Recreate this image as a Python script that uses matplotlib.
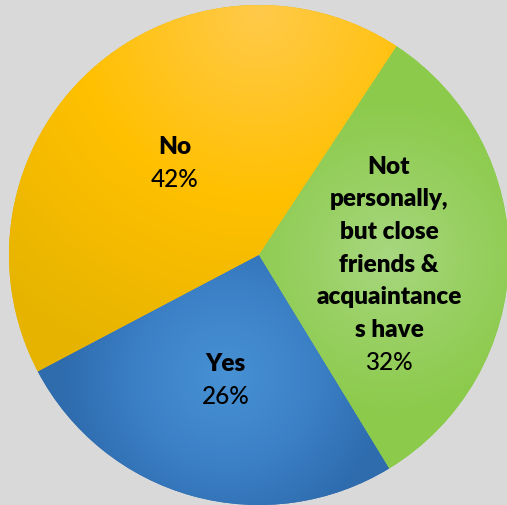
import numpy as np
import matplotlib.pyplot as plt
from matplotlib.colors import to_rgb

# survey answers
labels = ['No', 'Yes', 'Not\npersonally,\nbut close\nfriends &\nacquaintance\ns have']
values = [42, 26, 32]

# gradient stops per slice: (light, mid, dark)
stops = [('#FFCA4A', '#FFC000', '#E6B400'),
         ('#4791D4', '#3D82C8', '#2E6CAE'),
         ('#A8D780', '#98D062', '#8BCA4A')]
# where each gradient is lightest, and how far it spreads
grad_center = [(0.0, 0.97), None, None]
grad_spread = [1.5, 0.65, 0.65]
label_r = [0.5, 0.5, 0.52]
label_dy = [0.0, -2.5, -4.5]  # points

plt.rcParams['font.family'] = ['Lato', 'DejaVu Sans']

fig = plt.figure(figsize=(5.07, 5.06), dpi=100, facecolor='#D9D9D9')
ax = fig.add_axes([0, 0, 1, 1])

wedges, _ = ax.pie(values, startangle=56.6, counterclock=True,
                   colors=[s[2] for s in stops], radius=1,
                   wedgeprops=dict(linewidth=0))

n = 500
gx, gy = np.meshgrid(np.linspace(-1, 1, n), np.linspace(-1, 1, n))
line_h = 23.5  # points between text lines

for i, w in enumerate(wedges):
    mid = np.deg2rad((w.theta1 + w.theta2) / 2)
    lx, ly = label_r[i] * np.cos(mid), label_r[i] * np.sin(mid)

    cx, cy = grad_center[i] if grad_center[i] else (lx, ly)
    t = np.clip(np.hypot(gx - cx, gy - cy) / grad_spread[i], 0, 1)
    cols = [to_rgb(c) for c in stops[i]]
    img = np.dstack([np.interp(t, [0, 0.5, 1], [c[k] for c in cols]) for k in range(3)])
    im = ax.imshow(img, extent=(-1, 1, -1, 1), origin='lower', zorder=2,
                   interpolation='bilinear')
    im.set_clip_path(w)

    # bold label lines then the percentage, block centred on (lx, ly)
    lines = labels[i].split('\n')
    nl = len(lines) + 1
    for j, txt in enumerate(lines + ['%d%%' % values[i]]):
        off = ((nl - 1) / 2 - j) * line_h + label_dy[i]
        ax.annotate(txt, (lx, ly), xytext=(0, off), textcoords='offset points',
                    ha='center', va='center', fontsize=17.5, color='black',
                    fontweight='heavy' if j < len(lines) else 'medium', zorder=5)

ax.set_xlim(-1.036, 0.992)
ax.set_ylim(-1.0, 1.024)
ax.set_aspect('equal')
ax.axis('off')

fig.savefig('out.png', dpi=100, facecolor=fig.get_facecolor())
